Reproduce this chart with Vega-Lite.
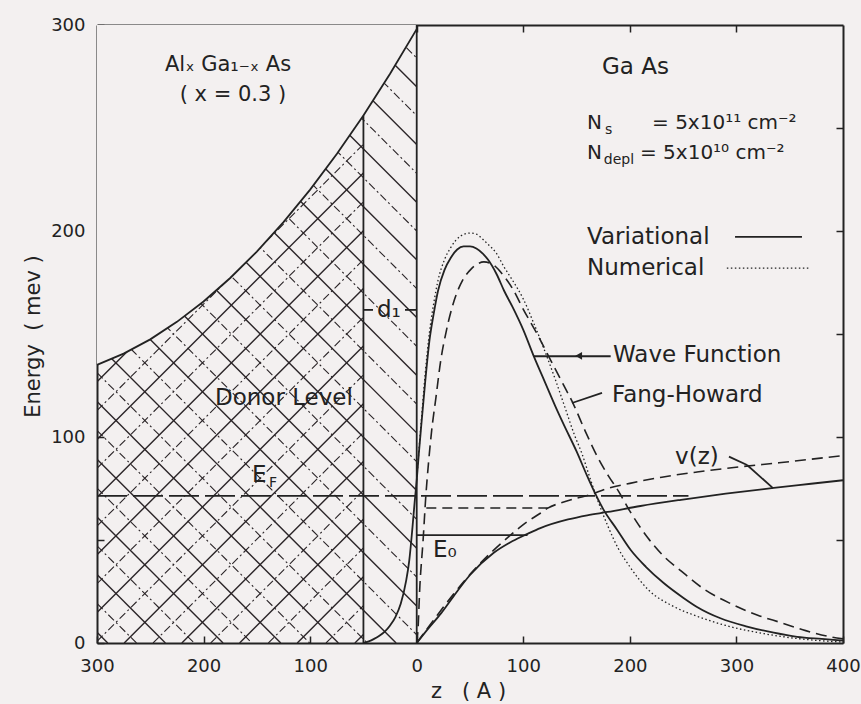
{
  "$schema": "https://vega.github.io/schema/vega-lite/v6.json",
  "width": 746,
  "height": 618,
  "autosize": {"type": "none"},
  "padding": {"left": 97, "top": 25, "right": 18, "bottom": 61},
  "background": "#f3f0f0",
  "config": {
    "view": {"stroke": null},
    "font": "DejaVu Sans",
    "axis": {"grid": false, "labelColor": "#222", "tickColor": "#222", "domainColor": "#222", "titleColor": "#222", "labelFont": "DejaVu Sans", "titleFont": "DejaVu Sans", "titleFontWeight": "normal", "domainWidth": 2, "tickWidth": 1.5, "zindex": 1}
  },
  "datasets": {
    "hatchBS": [
      {"z": -300, "E": 5.2, "z2": -289.9, "E2": 0},
      {"z": -300, "E": 33.2, "z2": -235.8, "E2": 0},
      {"z": -300, "E": 61.2, "z2": -181.7, "E2": 0},
      {"z": -300, "E": 89.2, "z2": -127.6, "E2": 0},
      {"z": -300, "E": 117.2, "z2": -73.5, "E2": 0},
      {"z": -300, "E": 145.2, "z2": -19.3, "E2": 0},
      {"z": -300, "E": 173.2, "z2": 0, "E2": 18},
      {"z": -300, "E": 201.2, "z2": 0, "E2": 46},
      {"z": -300, "E": 229.2, "z2": 0, "E2": 74},
      {"z": -300, "E": 257.2, "z2": 0, "E2": 102},
      {"z": -300, "E": 285.2, "z2": 0, "E2": 130},
      {"z": -274.5, "E": 300, "z2": 0, "E2": 158},
      {"z": -220.4, "E": 300, "z2": 0, "E2": 186},
      {"z": -166.2, "E": 300, "z2": 0, "E2": 214},
      {"z": -112.1, "E": 300, "z2": 0, "E2": 242},
      {"z": -58, "E": 300, "z2": 0, "E2": 270},
      {"z": -3.9, "E": 300, "z2": 0, "E2": 298}
    ],
    "hatchBD": [
      {"z": -300, "E": 19.2, "z2": -262.9, "E2": 0},
      {"z": -300, "E": 47.2, "z2": -208.8, "E2": 0},
      {"z": -300, "E": 75.2, "z2": -154.6, "E2": 0},
      {"z": -300, "E": 103.2, "z2": -100.5, "E2": 0},
      {"z": -300, "E": 131.2, "z2": -46.4, "E2": 0},
      {"z": -300, "E": 159.2, "z2": 0, "E2": 4},
      {"z": -300, "E": 187.2, "z2": 0, "E2": 32},
      {"z": -300, "E": 215.2, "z2": 0, "E2": 60},
      {"z": -300, "E": 243.2, "z2": 0, "E2": 88},
      {"z": -300, "E": 271.2, "z2": 0, "E2": 116},
      {"z": -300, "E": 299.2, "z2": 0, "E2": 144},
      {"z": -247.4, "E": 300, "z2": 0, "E2": 172},
      {"z": -193.3, "E": 300, "z2": 0, "E2": 200},
      {"z": -139.2, "E": 300, "z2": 0, "E2": 228},
      {"z": -85.1, "E": 300, "z2": 0, "E2": 256},
      {"z": -30.9, "E": 300, "z2": 0, "E2": 284}
    ],
    "hatchFS": [
      {"z": -58, "E": 0, "z2": -50, "E2": 4.13},
      {"z": -112.1, "E": 0, "z2": -50, "E2": 32.13},
      {"z": -166.2, "E": 0, "z2": -50, "E2": 60.13},
      {"z": -220.4, "E": 0, "z2": -50, "E2": 88.13},
      {"z": -274.5, "E": 0, "z2": -50, "E2": 116.13},
      {"z": -300, "E": 14.8, "z2": -50, "E2": 144.13},
      {"z": -300, "E": 42.8, "z2": -50, "E2": 172.13},
      {"z": -300, "E": 70.8, "z2": -50, "E2": 200.13},
      {"z": -300, "E": 98.8, "z2": -50, "E2": 228.13},
      {"z": -300, "E": 126.8, "z2": -50, "E2": 256.13}
    ],
    "hatchFD": [
      {"z": -85.1, "E": 0, "z2": -50, "E2": 18.13},
      {"z": -139.2, "E": 0, "z2": -50, "E2": 46.13},
      {"z": -193.3, "E": 0, "z2": -50, "E2": 74.13},
      {"z": -247.4, "E": 0, "z2": -50, "E2": 102.13},
      {"z": -300, "E": 0.8, "z2": -50, "E2": 130.13},
      {"z": -300, "E": 28.8, "z2": -50, "E2": 158.13},
      {"z": -300, "E": 56.8, "z2": -50, "E2": 186.13},
      {"z": -300, "E": 84.8, "z2": -50, "E2": 214.13},
      {"z": -300, "E": 112.8, "z2": -50, "E2": 242.13}
    ],
    "band": [
      {"z": -300, "E": 135}, {"z": -275, "E": 140.5}, {"z": -250, "E": 147.4}, {"z": -225, "E": 155.9},
      {"z": -200, "E": 165.8}, {"z": -175, "E": 177.2}, {"z": -150, "E": 190}, {"z": -125, "E": 204.3},
      {"z": -100, "E": 220.1}, {"z": -75, "E": 237.4}, {"z": -50, "E": 256.1}, {"z": -25, "E": 276.3}, {"z": 0, "E": 298}
    ],
    "solidSegs": [
      {"z": -50, "E": 0, "z2": -50, "E2": 256.1},
      {"z": 0, "E": 0, "z2": 0, "E2": 300},
      {"z": 0, "E": 52.4, "z2": 104, "E2": 52.4},
      {"z": 298.7, "E": 197.1, "z2": 361.5, "E2": 197.1},
      {"z": 110, "E": 139.2, "z2": 182, "E2": 139.2},
      {"z": 145.7, "E": 116.5, "z2": 173.9, "E2": 121.4},
      {"z": 293, "E": 90.5, "z2": 310, "E2": 86.4},
      {"z": 310, "E": 86.4, "z2": 334.3, "E2": 75.2},
      {"z": -50, "E": 161.7, "z2": -41, "E2": 161.7},
      {"z": -11, "E": 161.7, "z2": 0, "E2": 161.7}
    ],
    "fermi": [{"z": -300, "E": 71.4, "z2": 255, "E2": 71.4}],
    "e0fh": [{"z": 9, "E": 65.5, "z2": 123, "E2": 65.5}],
    "dotLegend": [{"z": 291, "E": 182, "z2": 369, "E2": 182}],
    "wfVar": [
      {"z": -50, "E": 0}, {"z": -45, "E": 0.8}, {"z": -40, "E": 2}, {"z": -35, "E": 3.5}, {"z": -30, "E": 5.5},
      {"z": -25, "E": 8.5}, {"z": -20, "E": 12.6}, {"z": -15, "E": 19}, {"z": -10, "E": 30}, {"z": -7, "E": 40},
      {"z": -4, "E": 56}, {"z": -2, "E": 68}, {"z": 0, "E": 79}, {"z": 2, "E": 92}, {"z": 4, "E": 104},
      {"z": 8, "E": 127}, {"z": 12, "E": 147}, {"z": 16, "E": 160}, {"z": 20, "E": 171}, {"z": 26, "E": 181},
      {"z": 32, "E": 187}, {"z": 38, "E": 191}, {"z": 44, "E": 192.5}, {"z": 50, "E": 192.5}, {"z": 56, "E": 191.5},
      {"z": 62, "E": 189}, {"z": 67, "E": 186}, {"z": 75, "E": 179}, {"z": 82, "E": 171}, {"z": 90, "E": 163},
      {"z": 100, "E": 152}, {"z": 110, "E": 139}, {"z": 120, "E": 127}, {"z": 130, "E": 115}, {"z": 138, "E": 106},
      {"z": 150, "E": 93}, {"z": 160, "E": 81}, {"z": 168, "E": 72}, {"z": 175, "E": 65}, {"z": 188, "E": 55},
      {"z": 201, "E": 45}, {"z": 215, "E": 37}, {"z": 232, "E": 29}, {"z": 250, "E": 22}, {"z": 263, "E": 17.5},
      {"z": 285, "E": 12}, {"z": 310, "E": 8}, {"z": 335, "E": 5}, {"z": 357, "E": 3}, {"z": 380, "E": 2}, {"z": 400, "E": 1.2}
    ],
    "wfNum": [
      {"z": 0, "E": 79}, {"z": 2, "E": 93}, {"z": 4, "E": 106}, {"z": 8, "E": 131}, {"z": 12, "E": 151},
      {"z": 16, "E": 165}, {"z": 20, "E": 176}, {"z": 26, "E": 186}, {"z": 32, "E": 192}, {"z": 41, "E": 197.5},
      {"z": 50, "E": 199}, {"z": 56, "E": 198.5}, {"z": 62, "E": 196}, {"z": 67, "E": 193.5}, {"z": 75, "E": 189},
      {"z": 82, "E": 182.5}, {"z": 90, "E": 176}, {"z": 100, "E": 167}, {"z": 110, "E": 155}, {"z": 120, "E": 142},
      {"z": 130, "E": 128}, {"z": 140, "E": 113}, {"z": 148, "E": 101}, {"z": 155, "E": 92}, {"z": 162, "E": 81},
      {"z": 170, "E": 69}, {"z": 180, "E": 56}, {"z": 189, "E": 46}, {"z": 200, "E": 37}, {"z": 217, "E": 26},
      {"z": 240, "E": 18}, {"z": 263, "E": 13}, {"z": 290, "E": 8.5}, {"z": 326, "E": 4.5}, {"z": 360, "E": 2},
      {"z": 388, "E": 0.8}, {"z": 400, "E": 0.5}
    ],
    "wfFH": [
      {"z": 0, "E": 0}, {"z": 1, "E": 5}, {"z": 3, "E": 28}, {"z": 6, "E": 50}, {"z": 8.5, "E": 71},
      {"z": 11, "E": 87}, {"z": 14, "E": 103}, {"z": 18, "E": 119}, {"z": 22.5, "E": 137}, {"z": 28, "E": 152},
      {"z": 35, "E": 166}, {"z": 43, "E": 176}, {"z": 51, "E": 181.5}, {"z": 57, "E": 184}, {"z": 63, "E": 185},
      {"z": 72, "E": 183.5}, {"z": 82, "E": 178}, {"z": 90, "E": 172}, {"z": 100, "E": 162}, {"z": 113, "E": 150},
      {"z": 126, "E": 137}, {"z": 137, "E": 126}, {"z": 147, "E": 116}, {"z": 158, "E": 103}, {"z": 170, "E": 90},
      {"z": 180, "E": 81}, {"z": 189, "E": 74}, {"z": 200, "E": 64}, {"z": 217, "E": 51}, {"z": 232, "E": 42},
      {"z": 248, "E": 35}, {"z": 270, "E": 26}, {"z": 295, "E": 19}, {"z": 320, "E": 13.5}, {"z": 341, "E": 10},
      {"z": 365, "E": 6}, {"z": 388, "E": 3}, {"z": 400, "E": 2}
    ],
    "vVar": [
      {"z": 0, "E": 0}, {"z": 10, "E": 6.5}, {"z": 23, "E": 14.5}, {"z": 35, "E": 23}, {"z": 50, "E": 33},
      {"z": 72, "E": 43.7}, {"z": 90, "E": 49.5}, {"z": 104, "E": 53}, {"z": 116, "E": 55.8}, {"z": 142, "E": 60},
      {"z": 160, "E": 62}, {"z": 179, "E": 63.6}, {"z": 210, "E": 66.5}, {"z": 248, "E": 69.5}, {"z": 290, "E": 72.5},
      {"z": 335, "E": 75.3}, {"z": 370, "E": 77.3}, {"z": 400, "E": 79}
    ],
    "vFH": [
      {"z": 0, "E": 0}, {"z": 20, "E": 14}, {"z": 35, "E": 24}, {"z": 53, "E": 35}, {"z": 70, "E": 44},
      {"z": 85, "E": 51}, {"z": 100, "E": 57.5}, {"z": 116, "E": 63}, {"z": 123, "E": 65.5}, {"z": 135, "E": 68},
      {"z": 150, "E": 70.3}, {"z": 161, "E": 71.7}, {"z": 179, "E": 75}, {"z": 200, "E": 77.5}, {"z": 230, "E": 80.5},
      {"z": 263, "E": 83}, {"z": 303, "E": 85.5}, {"z": 340, "E": 87.5}, {"z": 370, "E": 89.2}, {"z": 400, "E": 91}
    ],
    "arrow": [{"z": 152, "E": 139.4}],
    "labelsCenter": [
      {"z": -177, "E": 280.6, "t": "Alₓ Ga₁₋ₓ As"},
      {"z": -172.4, "E": 266, "t": "( x = 0.3 )"}
    ],
    "labelsLeft": [
      {"z": 159.8, "E": 252.4, "t": "N"},
      {"z": 220.8, "E": 252.4, "t": "= 5x10¹¹ cm⁻²"},
      {"z": 159.8, "E": 237.9, "t": "N"},
      {"z": 209.5, "E": 237.9, "t": "= 5x10¹⁰ cm⁻²"}
    ],
    "labelsBig": [
      {"z": 173.9, "E": 279.6, "t": "Ga As"},
      {"z": 159.8, "E": 197.1, "t": "Variational"},
      {"z": 159.8, "E": 182, "t": "Numerical"},
      {"z": 184.2, "E": 139.8, "t": "Wave Function"},
      {"z": 183.3, "E": 120.4, "t": "Fang-Howard"},
      {"z": 242.4, "E": 90.3, "t": "v(z)"},
      {"z": -189.3, "E": 118.9, "t": "Donor Level"},
      {"z": -154.6, "E": 81.6, "t": "E"},
      {"z": 15.3, "E": 45.1, "t": "E₀"},
      {"z": -37.3, "E": 161.7, "t": "d₁"}
    ],
    "labelsSub": [
      {"z": 176.7, "E": 249, "t": "s"},
      {"z": 175.5, "E": 234.5, "t": "depl"},
      {"z": -138.5, "E": 77.5, "t": "F"}
    ]
  },
  "resolve": {"axis": {"x": "independent", "y": "independent"}},
  "layer": [
    {
      "data": {"name": "hatchBS"},
      "mark": {"type": "rule", "clip": true, "color": "#2a2427", "strokeWidth": 1.4},
      "encoding": {
        "x": {"field": "z", "type": "quantitative", "scale": {"domain": [-300, 400], "nice": false, "zero": false}, "axis": null},
        "y": {"field": "E", "type": "quantitative", "scale": {"domain": [0, 300], "nice": false, "zero": false}, "axis": null},
        "x2": {"field": "z2"}, "y2": {"field": "E2"}
      }
    },
    {
      "data": {"name": "hatchBD"},
      "mark": {"type": "rule", "clip": true, "color": "#2a2427", "strokeWidth": 1.1, "strokeDash": [8, 3, 2, 3]},
      "encoding": {
        "x": {"field": "z", "type": "quantitative", "axis": null},
        "y": {"field": "E", "type": "quantitative", "axis": null},
        "x2": {"field": "z2"}, "y2": {"field": "E2"}
      }
    },
    {
      "data": {"name": "hatchFS"},
      "mark": {"type": "rule", "clip": true, "color": "#2a2427", "strokeWidth": 1.4},
      "encoding": {
        "x": {"field": "z", "type": "quantitative", "axis": null},
        "y": {"field": "E", "type": "quantitative", "axis": null},
        "x2": {"field": "z2"}, "y2": {"field": "E2"}
      }
    },
    {
      "data": {"name": "hatchFD"},
      "mark": {"type": "rule", "clip": true, "color": "#2a2427", "strokeWidth": 1.1, "strokeDash": [8, 3, 2, 3]},
      "encoding": {
        "x": {"field": "z", "type": "quantitative", "axis": null},
        "y": {"field": "E", "type": "quantitative", "axis": null},
        "x2": {"field": "z2"}, "y2": {"field": "E2"}
      }
    },
    {
      "data": {"name": "band"},
      "mark": {"type": "area", "color": "#f3f0f0", "opacity": 1},
      "encoding": {
        "x": {"field": "z", "type": "quantitative", "axis": {"orient": "bottom", "values": [-300, -200, -100, 0, 100, 200, 300, 400], "labelExpr": "abs(datum.value)", "labelFontSize": 18, "tickSize": -7, "labelPadding": 21, "labelFlush": false, "title": "z\u00a0\u00a0\u00a0(\u00a0A\u00a0)", "titleFontSize": 21, "titleX": 371, "titleY": 48, "titleBaseline": "middle", "titleAlign": "center"}},
        "y": {"field": "E", "type": "quantitative", "axis": {"orient": "left", "values": [0, 50, 100, 150, 200, 250, 300], "labelExpr": "datum.value % 100 == 0 ? datum.label : ''", "labelFontSize": 18, "tickSize": -7, "labelPadding": 19, "labelFlush": false, "title": "Energy\u00a0\u00a0(\u00a0mev\u00a0)", "titleFontSize": 21, "titleX": -64, "titleY": 311, "titleAngle": -90, "titleBaseline": "middle", "titleAlign": "center"}},
        "y2": {"datum": 300}
      }
    },
    {
      "data": {"name": "band"},
      "mark": {"type": "line", "color": "#222", "strokeWidth": 1.8},
      "encoding": {
        "x": {"field": "z", "type": "quantitative", "axis": {"orient": "top", "values": [-200, -100, 0, 100, 200, 300], "labels": false, "tickSize": -7, "title": null}},
        "y": {"field": "E", "type": "quantitative", "axis": {"orient": "right", "values": [50, 100, 150, 200, 250], "labels": false, "tickSize": -7, "title": null}}
      }
    },
    {
      "data": {"name": "solidSegs"},
      "mark": {"type": "rule", "color": "#222", "strokeWidth": 1.8},
      "encoding": {
        "x": {"field": "z", "type": "quantitative", "axis": null},
        "y": {"field": "E", "type": "quantitative", "axis": null},
        "x2": {"field": "z2"}, "y2": {"field": "E2"}
      }
    },
    {
      "data": {"name": "fermi"},
      "mark": {"type": "rule", "color": "#222", "strokeWidth": 1.6, "strokeDash": [30, 6]},
      "encoding": {
        "x": {"field": "z", "type": "quantitative", "axis": null},
        "y": {"field": "E", "type": "quantitative", "axis": null},
        "x2": {"field": "z2"}, "y2": {"field": "E2"}
      }
    },
    {
      "data": {"name": "e0fh"},
      "mark": {"type": "rule", "color": "#222", "strokeWidth": 1.6, "strokeDash": [10, 6]},
      "encoding": {
        "x": {"field": "z", "type": "quantitative", "axis": null},
        "y": {"field": "E", "type": "quantitative", "axis": null},
        "x2": {"field": "z2"}, "y2": {"field": "E2"}
      }
    },
    {
      "data": {"name": "dotLegend"},
      "mark": {"type": "rule", "color": "#222", "strokeWidth": 1.3, "strokeDash": [1.5, 2.5]},
      "encoding": {
        "x": {"field": "z", "type": "quantitative", "axis": null},
        "y": {"field": "E", "type": "quantitative", "axis": null},
        "x2": {"field": "z2"}, "y2": {"field": "E2"}
      }
    },
    {
      "data": {"name": "wfVar"},
      "mark": {"type": "line", "color": "#222", "strokeWidth": 1.8, "interpolate": "monotone"},
      "encoding": {
        "x": {"field": "z", "type": "quantitative", "axis": null},
        "y": {"field": "E", "type": "quantitative", "axis": null}
      }
    },
    {
      "data": {"name": "wfNum"},
      "mark": {"type": "line", "color": "#222", "strokeWidth": 1.3, "strokeDash": [1.5, 2.5], "interpolate": "monotone"},
      "encoding": {
        "x": {"field": "z", "type": "quantitative", "axis": null},
        "y": {"field": "E", "type": "quantitative", "axis": null}
      }
    },
    {
      "data": {"name": "wfFH"},
      "mark": {"type": "line", "color": "#222", "strokeWidth": 1.6, "strokeDash": [11, 6], "interpolate": "monotone"},
      "encoding": {
        "x": {"field": "z", "type": "quantitative", "axis": null},
        "y": {"field": "E", "type": "quantitative", "axis": null}
      }
    },
    {
      "data": {"name": "vVar"},
      "mark": {"type": "line", "color": "#222", "strokeWidth": 1.8, "interpolate": "monotone"},
      "encoding": {
        "x": {"field": "z", "type": "quantitative", "axis": null},
        "y": {"field": "E", "type": "quantitative", "axis": null}
      }
    },
    {
      "data": {"name": "vFH"},
      "mark": {"type": "line", "color": "#222", "strokeWidth": 1.6, "strokeDash": [11, 6], "interpolate": "monotone"},
      "encoding": {
        "x": {"field": "z", "type": "quantitative", "axis": null},
        "y": {"field": "E", "type": "quantitative", "axis": null}
      }
    },
    {
      "data": {"name": "arrow"},
      "mark": {"type": "point", "shape": "triangle-left", "filled": true, "color": "#222", "size": 60, "opacity": 1},
      "encoding": {
        "x": {"field": "z", "type": "quantitative", "axis": null},
        "y": {"field": "E", "type": "quantitative", "axis": null}
      }
    },
    {
      "data": {"name": "labelsCenter"},
      "mark": {"type": "text", "align": "center", "baseline": "middle", "fontSize": 21, "color": "#222"},
      "encoding": {
        "x": {"field": "z", "type": "quantitative", "axis": null},
        "y": {"field": "E", "type": "quantitative", "axis": null},
        "text": {"field": "t"}
      }
    },
    {
      "data": {"name": "labelsLeft"},
      "mark": {"type": "text", "align": "left", "baseline": "middle", "fontSize": 20, "color": "#222"},
      "encoding": {
        "x": {"field": "z", "type": "quantitative", "axis": null},
        "y": {"field": "E", "type": "quantitative", "axis": null},
        "text": {"field": "t"}
      }
    },
    {
      "data": {"name": "labelsBig"},
      "mark": {"type": "text", "align": "left", "baseline": "middle", "fontSize": 23, "color": "#222"},
      "encoding": {
        "x": {"field": "z", "type": "quantitative", "axis": null},
        "y": {"field": "E", "type": "quantitative", "axis": null},
        "text": {"field": "t"}
      }
    },
    {
      "data": {"name": "labelsSub"},
      "mark": {"type": "text", "align": "left", "baseline": "middle", "fontSize": 14, "color": "#222"},
      "encoding": {
        "x": {"field": "z", "type": "quantitative", "axis": null},
        "y": {"field": "E", "type": "quantitative", "axis": null},
        "text": {"field": "t"}
      }
    }
  ]
}
